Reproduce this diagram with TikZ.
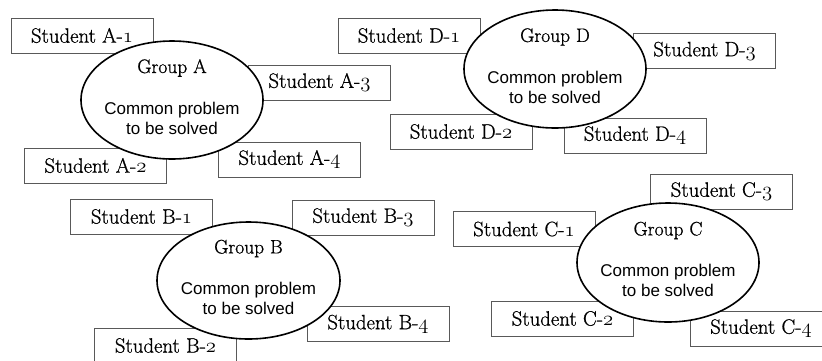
\documentclass[tikz,border=0pt]{standalone}
\usepackage{fontspec}
\newfontfamily\descfont{Liberation Sans}
\newfontfamily\serifheavy{Latin Modern Roman}[FakeBold=0.8]
\usetikzlibrary{shapes.geometric}
\newcommand\studtxt[2]{Student #1-\legacyoldstylenums{#2}}
\begin{document}
\begin{tikzpicture}[x=1pt,y=-1pt,
  studbox/.style={draw=black!65, line width=0.7pt, minimum width=142pt, minimum height=35pt, inner sep=0pt, fill=white, font=\serifheavy\fontsize{20.74}{24}\selectfont},
  groupell/.style={ellipse, draw=black, line width=1.6pt, fill=white, inner sep=0pt},
  grouptitle/.style={inner sep=0pt, font=\serifheavy\fontsize{19.5}{23}\selectfont},
  groupdesc/.style={inner sep=0pt, align=center, font=\descfont\fontsize{17}{20}\selectfont}]
\useasboundingbox (0,0) rectangle (822,360);
\clip (0,0) rectangle (822,360);
\fill[white] (0,0) rectangle (822,360);
% student boxes
\node[studbox] (a1) at (82,35.5) {\studtxt{A}{1}};
\node[studbox] (a3) at (319.5,82.5) {\studtxt{A}{3}};
\node[studbox] (a2) at (95.5,165.5) {\studtxt{A}{2}};
\node[studbox] (a4) at (289.5,159.5) {\studtxt{A}{4}};
\node[studbox] (d1) at (409,35.5) {\studtxt{D}{1}};
\node[studbox] (d3) at (704.5,51) {\studtxt{D}{3}};
\node[studbox] (d2) at (461,131.5) {\studtxt{D}{2}};
\node[studbox] (d4) at (635,135.5) {\studtxt{D}{4}};
\node[studbox] (b1) at (141.5,216.5) {\studtxt{B}{1}};
\node[studbox] (b3) at (363,217.5) {\studtxt{B}{3}};
\node[studbox] (b4) at (378,324) {\studtxt{B}{4}};
\node[studbox] (b2) at (165.5,345.5) {\studtxt{B}{2}};
\node[studbox] (c1) at (524,229) {\studtxt{C}{1}};
\node[studbox] (c3) at (721.5,191.5) {\studtxt{C}{3}};
\node[studbox] (c2) at (562.5,318.5) {\studtxt{C}{2}};
\node[studbox] (c4) at (761,328.5) {\studtxt{C}{4}};
% group ellipses
\node[groupell, minimum width=182pt, minimum height=118pt] (gA) at (172,100) {};
\node[groupell, minimum width=182pt, minimum height=118pt] (gD) at (555,69) {};
\node[groupell, minimum width=183pt, minimum height=117pt] (gB) at (248.5,280.5) {};
\node[groupell, minimum width=182pt, minimum height=119pt] (gC) at (668,262.5) {};
% group texts
\foreach \g/\l in {gA/A,gD/D,gB/B,gC/C}{
  \node[grouptitle] (t\g) at ([yshift=32pt]\g.center) {Group \l};
  \node[groupdesc] (d\g) at ([yshift=-18pt]\g.center) {Common problem\\to be solved};
}
\end{tikzpicture}
\end{document}
